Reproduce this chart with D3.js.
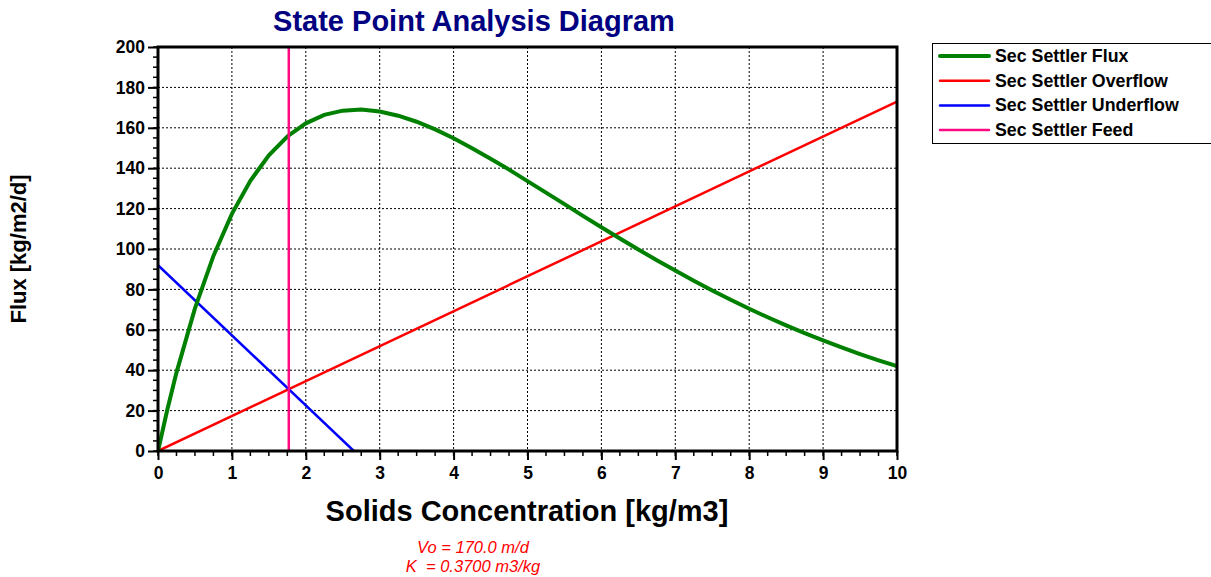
<!DOCTYPE html>
<html><head><meta charset="utf-8">
<script src="https://cdn.jsdelivr.net/npm/d3@7"></script>
<style>
body{margin:0;background:#fff;}
text{font-family:"Liberation Sans",Arial,sans-serif;}
</style></head>
<body><svg id="c" width="1211" height="577"></svg>
<script>
// Data
const fluxX = [0,0.125,0.25,0.5,0.75,1,1.25,1.5,1.75,2,2.25,2.5,2.75,3,3.25,3.5,3.75,4,4.25,4.5,4.75,5,5.25,5.5,5.75,6,6.25,6.5,6.75,7,7.25,7.5,7.75,8,8.25,8.5,8.75,9,9.25,9.5,9.75,10];
const fluxY = [0,20.3,38.8,70.6,96.6,117.4,133.8,146.4,155.7,162.2,166.4,168.5,169.0,168.1,166.0,163.0,159.2,154.8,149.9,144.7,139.3,133.6,127.9,122.2,116.4,110.8,105.2,99.8,94.4,89.3,84.3,79.5,74.9,70.4,66.2,62.2,58.4,54.8,51.3,48.0,44.9,42.0];
const overflowX = [0,10];
const overflowY = [0,173];
const underflowX = [0,2.65];
const underflowY = [92,0];
const feedX = [1.77,1.77];
const feedY = [0,200];
const seriesNames = ["Sec Settler Flux","Sec Settler Overflow","Sec Settler Underflow","Sec Settler Feed"];
const seriesColors = ["#008000","#ff0000","#0000ff","#ff0a82"];
const xTicks = [0,1,2,3,4,5,6,7,8,9,10];
const yTicks = [0,20,40,60,80,100,120,140,160,180,200];

const svg = d3.select("#c");
const L=158, R=897, T=47, B=451;
const x = d3.scaleLinear().domain([0,10]).range([L,R]);
const y = d3.scaleLinear().domain([0,200]).range([B,T]);

// grid
const g = svg.append("g");
g.selectAll(".vg").data(xTicks.slice(1,-1)).enter().append("line")
  .attr("x1",d=>x(d)).attr("x2",d=>x(d)).attr("y1",T).attr("y2",B)
  .attr("stroke","#000").attr("stroke-width",1).attr("stroke-dasharray","2,2");
g.selectAll(".hg").data(yTicks.slice(1,-1)).enter().append("line")
  .attr("y1",d=>y(d)).attr("y2",d=>y(d)).attr("x1",L).attr("x2",R)
  .attr("stroke","#000").attr("stroke-width",1).attr("stroke-dasharray","2,2");

// minor ticks
const xMinor = d3.range(0,10.001,0.25);
svg.append("g").selectAll("line").data(xMinor).enter().append("line")
  .attr("x1",d=>x(d)).attr("x2",d=>x(d)).attr("y1",B).attr("y2",B+5)
  .attr("stroke","#000").attr("stroke-width",1.5);
const yMinor = d3.range(0,200.001,5);
svg.append("g").selectAll("line").data(yMinor).enter().append("line")
  .attr("y1",d=>y(d)).attr("y2",d=>y(d)).attr("x1",L-5).attr("x2",L)
  .attr("stroke","#000").attr("stroke-width",1.5);

// axes
const xAxis = d3.axisBottom(x).tickValues(xTicks).tickSize(9).tickPadding(7).tickFormat(d3.format("d"));
const yAxis = d3.axisLeft(y).tickValues(yTicks).tickSize(10).tickPadding(3).tickFormat(d3.format("d"));
const gx = svg.append("g").attr("transform",`translate(0,${B})`).call(xAxis);
const gy = svg.append("g").attr("transform",`translate(${L},0)`).call(yAxis);
[gx,gy].forEach(a=>{
  a.select(".domain").remove();
  a.selectAll(".tick line").attr("stroke","#000").attr("stroke-width",2);
  a.selectAll(".tick text").attr("fill","#000").style("font-size","17.5px").style("font-weight","bold");
});

// series
const line = d3.line().x(d=>x(d[0])).y(d=>y(d[1]));
svg.append("clipPath").attr("id","cp").append("rect").attr("x",L).attr("y",T).attr("width",R-L).attr("height",B-T);
const plot = svg.append("g").attr("clip-path","url(#cp)");
plot.append("path").datum(overflowX.map((v,i)=>[v,overflowY[i]])).attr("d",line)
  .attr("fill","none").attr("stroke",seriesColors[1]).attr("stroke-width",2.5);
plot.append("path").datum(underflowX.map((v,i)=>[v,underflowY[i]])).attr("d",line)
  .attr("fill","none").attr("stroke",seriesColors[2]).attr("stroke-width",2.5);
plot.append("path").datum(fluxX.map((v,i)=>[v,fluxY[i]])).attr("d",line)
  .attr("fill","none").attr("stroke",seriesColors[0]).attr("stroke-width",4);
plot.append("path").datum(feedX.map((v,i)=>[v,feedY[i]])).attr("d",line)
  .attr("fill","none").attr("stroke",seriesColors[3]).attr("stroke-width",2.5);

// frame
svg.append("rect").attr("x",L).attr("y",T).attr("width",R-L).attr("height",B-T)
  .attr("fill","none").attr("stroke","#000").attr("stroke-width",3);

// title
svg.append("text").attr("x",474).attr("y",31).attr("text-anchor","middle")
  .attr("fill","#000080").style("font-size","29px").style("font-weight","bold")
  .text("State Point Analysis Diagram");
// axis titles
svg.append("text").attr("x",527).attr("y",521).attr("text-anchor","middle")
  .attr("fill","#000").style("font-size","29px").style("font-weight","bold")
  .text("Solids Concentration [kg/m3]");
svg.append("text").attr("transform","translate(26,249) rotate(-90)").attr("text-anchor","middle")
  .attr("fill","#000").style("font-size","22px").style("font-weight","bold")
  .text("Flux [kg/m2/d]");
// footer
svg.append("text").attr("x",473).attr("y",553).attr("text-anchor","middle")
  .attr("fill","#ff0000").style("font-size","16.5px").style("font-style","italic")
  .text("Vo = 170.0 m/d");
svg.append("text").attr("x",473).attr("y",572).attr("text-anchor","middle")
  .attr("fill","#ff0000").style("font-size","16.5px").style("font-style","italic")
  .attr("xml:space","preserve").text("K  = 0.3700 m3/kg");

// legend
const lg = svg.append("g");
lg.append("rect").attr("x",932.5).attr("y",43.5).attr("width",280).attr("height",100)
  .attr("fill","#fff").attr("stroke","#000").attr("stroke-width",1);
seriesNames.forEach((n,i)=>{
  const yy = 56 + i*24.7;
  lg.append("line").attr("x1",940).attr("x2",989).attr("y1",yy).attr("y2",yy)
    .attr("stroke",seriesColors[i]).attr("stroke-width",i===0?4:2.5).attr("stroke-linecap","round");
  lg.append("text").attr("x",995).attr("y",yy+6).attr("fill","#000")
    .style("font-size","17.8px").style("font-weight","bold").text(n);
});
</script></body></html>
